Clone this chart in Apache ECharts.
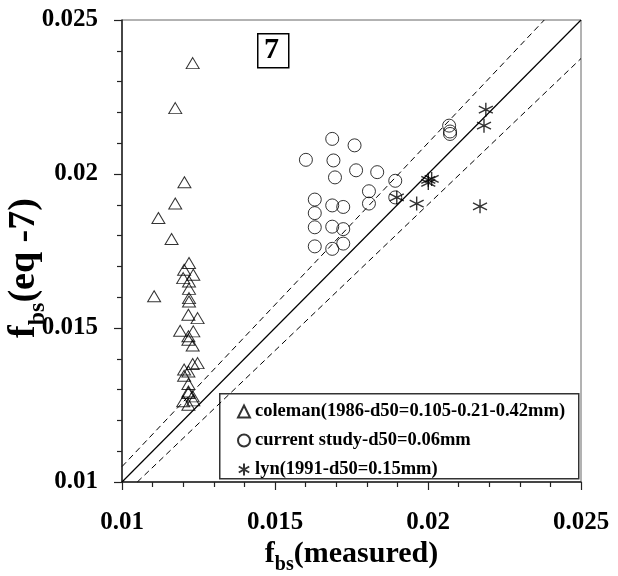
<!DOCTYPE html>
<html>
<head>
<meta charset="utf-8">
<script src="https://cdn.jsdelivr.net/npm/echarts@6/dist/echarts.min.js"></script>
<style>
  html, body { margin: 0; padding: 0; background: #fff; }
  #chart { width: 618px; height: 576px; }
</style>
</head>
<body>
<div id="chart"></div>
<script>
// coleman (1986) - [measured, eq-7]
const colemanData = [
  [0.01231, 0.02360], [0.01174, 0.02214], [0.01204, 0.01973], [0.01174, 0.01904],
  [0.01119, 0.01857], [0.01162, 0.01789], [0.01105, 0.01603],
  [0.01219, 0.01711], [0.01203, 0.01689], [0.01233, 0.01673], [0.01200, 0.01662],
  [0.01219, 0.01651], [0.01219, 0.01627], [0.01219, 0.01597], [0.01219, 0.01586],
  [0.01217, 0.01543], [0.01247, 0.01532], [0.01190, 0.01491], [0.01233, 0.01489],
  [0.01217, 0.01473], [0.01217, 0.01462], [0.01231, 0.01443], [0.01247, 0.01386],
  [0.01231, 0.01383], [0.01203, 0.01365], [0.01217, 0.01359], [0.01203, 0.01345],
  [0.01217, 0.01318], [0.01217, 0.01294], [0.01231, 0.01278], [0.01217, 0.01289],
  [0.01200, 0.01262], [0.01233, 0.01265], [0.01217, 0.01251]
]
// current study
const currentData = [
  [0.01601, 0.02046], [0.01687, 0.02114], [0.01760, 0.02093], [0.01691, 0.02044],
  [0.01765, 0.02012], [0.01834, 0.02006], [0.01696, 0.01989], [0.01893, 0.01978],
  [0.02069, 0.02157], [0.02072, 0.02138], [0.02072, 0.02130], [0.01807, 0.01944],
  [0.01807, 0.01904], [0.01893, 0.01924], [0.01630, 0.01917], [0.01687, 0.01898],
  [0.01723, 0.01893], [0.01630, 0.01873], [0.01630, 0.01827], [0.01687, 0.01829],
  [0.01723, 0.01821], [0.01723, 0.01774], [0.01630, 0.01765], [0.01687, 0.01757]
]
// lyn (1991)
const lynData = [
  [0.02189, 0.02209], [0.02183, 0.02157], [0.02001, 0.01981], [0.02012, 0.01984],
  [0.02001, 0.01971], [0.01898, 0.01924], [0.01963, 0.01904], [0.02170, 0.01895]
]
// reference lines: 1:1 and +/-5%
const perfectLine = [[0.01, 0.01], [0.025, 0.025]]
const upperLine = [[0.01, 0.0105], [0.0238, 0.025]]
const lowerLine = [[0.0105, 0.01], [0.025, 0.02375]]

const seriesNames = [
  'coleman(1986-d50=0.105-0.21-0.42mm)',
  'current study-d50=0.06mm',
  'lyn(1991-d50=0.15mm)'
]

const font = 'Liberation Serif'
const asterisk = 'path://M0,-1L0,1M-0.87,-0.5L0.87,0.5M-0.87,0.5L0.87,-0.5'

const chart = echarts.init(document.getElementById('chart'))

const markerStyle = { color: 'rgba(0,0,0,0)', borderColor: '#000', borderWidth: 1 }

const xTitleRich = {
  m: { fontFamily: font, fontWeight: 'bold', fontSize: 30, color: '#000' },
  s: { fontFamily: font, fontWeight: 'bold', fontSize: 20, color: '#000', verticalAlign: 'top', padding: [21, 0, 0, 0] }
}
const yTitleRich = {
  m: { fontFamily: font, fontWeight: 'bold', fontSize: 38, color: '#000' },
  s: { fontFamily: font, fontWeight: 'bold', fontSize: 24, color: '#000', verticalAlign: 'top', padding: [27, 0, 0, 0] }
}

const option = {
  backgroundColor: '#fff',
  animation: false,
  grid: { left: 122, right: 37, top: 20, bottom: 94, outerBoundsMode: 'none',
    show: true, borderColor: '#666', borderWidth: 1 },
  xAxis: {
    type: 'value', min: 0.01, max: 0.025, interval: 0.005,
    name: '{m|f}{s|bs}{m|(measured)}', nameLocation: 'middle', nameGap: 52,
    nameMoveOverlap: false,
    nameTextStyle: { rich: xTitleRich },
    axisLine: { lineStyle: { color: '#222', width: 1.5 } },
    axisTick: { show: true, length: 8, lineStyle: { color: '#222', width: 1.2 } },
    minorTick: { show: true, splitNumber: 5, length: 5, lineStyle: { color: '#222', width: 1.2 } },
    splitLine: { show: false },
    axisLabel: { fontFamily: font, fontWeight: 'bold', fontSize: 25, color: '#000', margin: 28,
      formatter: v => String(+v.toFixed(3)) }
  },
  yAxis: {
    type: 'value', min: 0.01, max: 0.025, interval: 0.005,
    name: '{m|f}{s|bs}{m|(eq -7)}', nameLocation: 'middle', nameGap: 72,
    nameMoveOverlap: false,
    nameTextStyle: { rich: yTitleRich, padding: [0, 34, 0, 0] },
    axisLine: { lineStyle: { color: '#222', width: 1.5 } },
    axisTick: { show: true, length: 8, lineStyle: { color: '#222', width: 1.2 } },
    minorTick: { show: true, splitNumber: 5, length: 5, lineStyle: { color: '#222', width: 1.2 } },
    splitLine: { show: false },
    axisLabel: { fontFamily: font, fontWeight: 'bold', fontSize: 25, color: '#000', margin: 24,
      formatter: v => String(+v.toFixed(3)) }
  },
  legend: {
    data: seriesNames, orient: 'vertical', left: 232, top: 397,
    itemWidth: 12, itemHeight: 12, itemGap: 10,
    textStyle: { fontFamily: font, fontWeight: 'bold', fontSize: 18.5, color: '#000' }
  },
  graphic: [
    { type: 'rect', left: 219, top: 393, shape: { width: 359, height: 85 },
      style: { fill: '#fff', stroke: '#333', lineWidth: 1.5 }, z: 1 },
    { type: 'rect', left: 257, top: 33, shape: { width: 31, height: 34 },
      style: { fill: '#fff', stroke: '#000', lineWidth: 1.5 }, z: 1 },
    { type: 'text', left: 264, top: 35,
      style: { text: '7', font: 'bold 30px "Liberation Serif"', fill: '#000' }, z: 2 }
  ],
  series: [
    { type: 'line', data: perfectLine, symbol: 'none', silent: true, z: 1,
      lineStyle: { color: '#000', width: 1.2 } },
    { type: 'line', data: upperLine, symbol: 'none', silent: true, z: 1,
      lineStyle: { color: '#000', width: 1, type: [6, 4] } },
    { type: 'line', data: lowerLine, symbol: 'none', silent: true, z: 1,
      lineStyle: { color: '#000', width: 1, type: [6, 4] } },
    { name: seriesNames[0], type: 'scatter', data: colemanData, symbol: 'triangle',
      symbolSize: [13, 11], itemStyle: markerStyle, z: 3 },
    { name: seriesNames[1], type: 'scatter', data: currentData, symbol: 'circle',
      symbolSize: 13, itemStyle: markerStyle, z: 3 },
    { name: seriesNames[2], type: 'scatter', data: lynData, symbol: asterisk,
      symbolSize: 14, itemStyle: { color: 'rgba(0,0,0,0)', borderColor: '#000', borderWidth: 1.4 }, z: 3 }
  ]
}

chart.setOption(option)
</script>
</body>
</html>
